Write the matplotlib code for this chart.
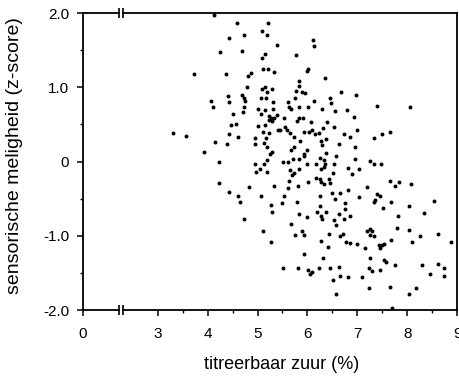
import matplotlib
matplotlib.use('Agg')
import matplotlib.pyplot as plt

plt.rcParams['font.family'] = ['Liberation Sans', 'DejaVu Sans']

# titreerbaar zuur (%) per monster
acid = [
    4.13, 4.59, 5.21, 5.09, 5.18, 4.72, 4.42, 5.39, 4.25, 4.69, 5.14, 5.08, 5.78,
    3.73, 4.36, 4.81, 4.87, 5.11, 5.20, 5.33, 5.83, 5.83, 4.78, 5.08, 5.14, 5.29,
    5.19, 5.78, 4.40, 4.69, 4.72, 4.75, 5.06, 5.16, 5.75, 4.07, 4.11, 4.43, 5.31,
    5.61, 5.63, 5.67, 4.73, 5.01, 5.14, 5.31, 5.83, 4.51, 4.71, 5.06, 5.23, 5.28,
    5.33, 5.24, 5.30, 5.39, 5.53, 5.84, 5.79, 4.46, 4.56, 5.01, 5.15, 5.41, 5.46,
    5.56, 5.59, 5.66, 3.30, 3.57, 4.43, 4.61, 5.11, 5.24, 4.94, 5.16, 4.14, 4.39,
    4.95, 5.13, 5.18, 5.74, 5.85, 5.67, 5.73, 3.93, 5.29, 5.26,
    6.11, 6.13, 5.99, 6.02, 6.36, 5.90, 5.95, 6.14, 6.46, 6.48, 6.67, 6.98, 7.39,
    8.05, 6.01, 6.29, 6.56, 6.79, 6.94, 5.91, 6.07, 6.39, 6.54, 6.31, 6.99, 5.93,
    6.03, 6.09, 6.16, 6.23, 6.73, 6.86, 7.33, 7.49, 7.66, 6.38, 6.27, 6.29, 6.63,
    6.96, 5.99, 5.94, 6.38, 6.57,
    4.23, 4.22, 4.43, 4.61, 4.65, 4.73, 4.82, 4.94, 4.96, 5.05, 5.13, 5.18, 5.19,
    5.06, 5.11, 5.28, 5.27, 5.30, 5.33, 5.51, 5.62, 5.71, 5.83, 5.94, 5.66, 5.69,
    5.73, 5.84, 5.63, 5.61, 5.53, 5.49, 5.81, 5.79, 5.84, 5.68, 5.75, 5.89, 5.94,
    5.94, 5.51, 5.81,
    5.99, 6.17, 6.26, 6.33, 6.36, 6.27, 6.33, 6.53, 6.51, 6.81, 6.89, 6.95, 7.03,
    7.25, 7.33, 7.47, 6.01, 6.18, 6.25, 6.27, 6.33, 6.43, 6.45, 6.49, 6.65, 6.56,
    6.26, 6.81, 7.03, 7.19, 7.39, 7.45, 7.36, 7.34, 7.66, 7.76, 7.83, 8.08, 7.68,
    7.51, 8.03, 8.53, 8.34, 7.82, 6.75, 6.75, 6.26, 6.27, 6.29, 6.38, 6.19, 5.99,
    6.63, 6.53, 6.58, 6.73, 6.86, 6.43, 6.65, 6.71, 7.19, 7.25, 7.29, 7.26, 7.33,
    6.28, 6.41, 6.78, 6.85, 6.99, 7.15, 7.43, 7.49, 7.45, 7.53, 7.67, 7.79, 8.03,
    8.25, 8.09, 8.61, 8.88, 6.31, 7.25, 7.54, 7.57, 7.75, 8.29, 8.61, 8.46, 8.74,
    8.74, 6.01, 6.06, 6.09, 6.23, 6.46, 6.63, 6.65, 6.51, 6.81, 7.09, 7.23, 7.29,
    7.46, 7.24, 7.66, 8.03, 8.18, 6.57, 7.69,
]

# sensorische meligheid (z-score) per monster
mealiness = [
    1.97, 1.87, 1.86, 1.76, 1.70, 1.70, 1.66, 1.57, 1.47, 1.49, 1.45, 1.39, 1.44,
    1.18, 1.18, 1.15, 1.19, 1.25, 1.24, 1.20, 1.08, 1.02, 1.01, 0.98, 1.00, 0.97,
    0.94, 0.95, 0.88, 0.89, 0.85, 0.82, 0.85, 0.85, 0.86, 0.81, 0.74, 0.80, 0.80,
    0.80, 0.74, 0.71, 0.73, 0.71, 0.69, 0.71, 0.74, 0.64, 0.67, 0.64, 0.61, 0.59,
    0.59, 0.56, 0.54, 0.62, 0.58, 0.59, 0.54, 0.49, 0.50, 0.48, 0.49, 0.43, 0.42,
    0.47, 0.42, 0.39, 0.39, 0.34, 0.37, 0.33, 0.40, 0.38, 0.32, 0.31, 0.26, 0.24,
    0.24, 0.25, 0.20, 0.33, 0.27, 0.16, 0.19, 0.13, 0.13, 0.10,
    1.64, 1.56, 1.22, 1.24, 1.12, 0.93, 0.92, 0.82, 0.85, 0.79, 0.93, 0.89, 0.75,
    0.73, 0.74, 0.71, 0.68, 0.69, 0.60, 0.59, 0.53, 0.53, 0.47, 0.45, 0.43, 0.40,
    0.40, 0.42, 0.37, 0.38, 0.37, 0.33, 0.32, 0.37, 0.40, 0.30, 0.27, 0.22, 0.23,
    0.20, 0.15, 0.10, 0.11, 0.08,
    -0.01, -0.29, -0.41, -0.46, -0.54, -0.77, -0.34, -0.04, -0.14, -0.10, -0.04, 0.02, -0.14,
    -0.46, -0.94, -1.09, -0.59, -0.68, -0.33, -0.01, -0.01, 0.04, 0.03, 0.07, -0.11, -0.18,
    -0.16, -0.10, -0.26, -0.36, -0.47, -0.56, -0.33, -0.54, -0.71, -0.84, -0.99, -0.94, -0.99,
    -1.25, -1.44, -1.44,
    -0.04, -0.04, 0.05, 0.02, -0.04, -0.10, -0.08, -0.04, -0.15, -0.09, -0.17, 0.03, -0.10,
    0.01, -0.04, -0.03, -0.27, -0.22, -0.23, -0.28, -0.30, -0.24, -0.29, -0.42, -0.42, -0.50,
    -0.46, -0.38, -0.48, -0.35, -0.44, -0.47, -0.52, -0.54, -0.26, -0.33, -0.27, -0.30, -0.54,
    -0.62, -0.60, -0.53, -0.70, -0.74, -0.56, -0.64, -0.60, -0.74, -0.77, -0.68, -0.68, -0.75,
    -0.71, -0.79, -0.86, -0.77, -0.74, -0.98, -1.00, -0.97, -0.94, -0.91, -0.94, -0.99, -1.00,
    -1.07, -1.15, -1.09, -1.10, -1.11, -1.16, -1.13, -1.12, -1.16, -1.11, -1.06, -0.89, -0.92,
    -1.00, -1.09, -0.97, -1.09, -1.30, -1.30, -1.33, -1.36, -1.39, -1.39, -1.38, -1.51, -1.44,
    -1.54, -1.46, -1.52, -1.49, -1.43, -1.44, -1.42, -1.54, -1.60, -1.56, -1.56, -1.43, -1.48,
    -1.46, -1.71, -1.69, -1.78, -1.70, -1.79, -1.97,
]

# x-as: "0" staat links van de onderbreking, daarna 3..9
x_ticks = [1.5, 3, 4, 5, 6, 7, 8, 9]
x_labels = ['0', '3', '4', '5', '6', '7', '8', '9']
x_minor = [3.5, 4.5, 5.5, 6.5, 7.5, 8.5]
y_ticks = [-2.0, -1.0, 0.0, 1.0, 2.0]
y_labels = ['-2.0', '-1.0', '0', '1.0', '2.0']
y_minor = [-1.5, -0.5, 0.5, 1.5]
break_x = (2.23, 2.31)

fig = plt.figure(figsize=(4.6, 3.77), dpi=100)
ax = fig.add_axes([0.1804, 0.1777, 0.8131, 0.7878])

ax.scatter(acid, mealiness, s=8, c='black', linewidths=0, clip_on=False)

ax.set_xlim(1.5, 9)
ax.set_ylim(-2.0, 2.0)

# onderbroken x-as: eigen lijnen onder en boven met breekstreepjes
ax.spines['bottom'].set_visible(False)
ax.spines['top'].set_visible(False)
ax.spines['left'].set_linewidth(1.3)
ax.spines['right'].set_linewidth(1.3)
trans = ax.get_xaxis_transform()
for yy in (0, 1):
    ax.plot([1.5, break_x[0]], [yy, yy], color='black', lw=1.3, transform=trans, clip_on=False)
    ax.plot([break_x[1], 9], [yy, yy], color='black', lw=1.3, transform=trans, clip_on=False)
    ax.plot(break_x, [yy, yy], ls='none', marker='|', ms=7, mew=1.2, color='black',
            transform=trans, clip_on=False)

ax.set_xticks(x_ticks)
ax.set_xticklabels(x_labels)
ax.set_xticks(x_minor, minor=True)
ax.set_yticks(y_ticks)
ax.set_yticklabels(y_labels)
ax.set_yticks(y_minor, minor=True)
ax.tick_params(which='major', direction='out', length=4, width=1.1, labelsize=11, pad=6)
ax.tick_params(which='minor', direction='out', length=2, width=1.0)
ax.tick_params(axis='x', which='major', pad=8)

ax.set_xlabel('titreerbaar zuur (%)', fontsize=13)
ax.xaxis.set_label_coords(0.532, -0.155)
ax.set_ylabel('sensorische meligheid (z-score)', fontsize=14)
ax.yaxis.set_label_coords(-0.16, 0.52)

fig.savefig('out.png', dpi=100)
